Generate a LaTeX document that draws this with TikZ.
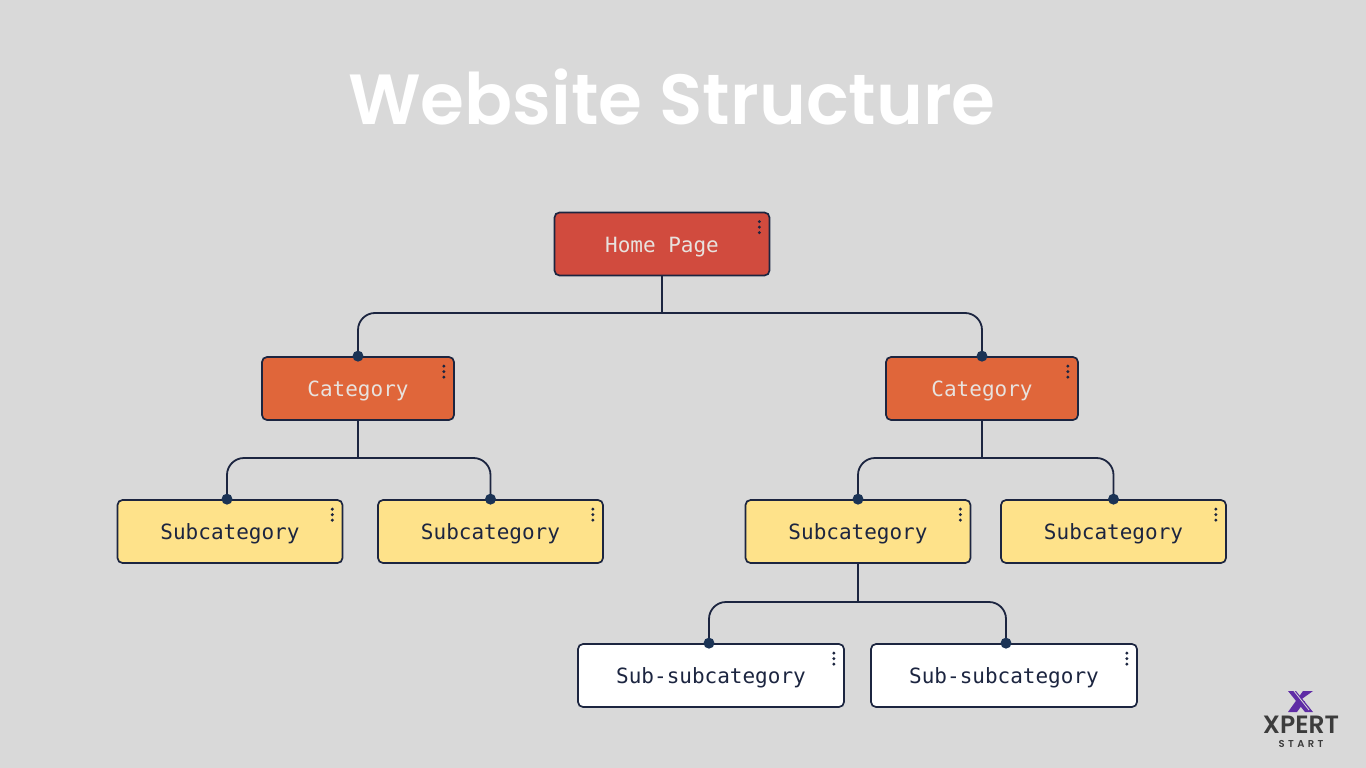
\documentclass[tikz,border=0pt]{standalone}
\usepackage{fontspec}
\setmainfont{Poppins}[UprightFont={* SemiBold},BoldFont={* SemiBold}]
\setmonofont{DejaVu Sans Mono}
\usepackage{tikz}
\definecolor{bgcol}{HTML}{D9D9D9}
\definecolor{linecol}{HTML}{1C2540}
\definecolor{dotcol}{HTML}{1B3355}
\definecolor{homecol}{HTML}{D14B3E}
\definecolor{catcol}{HTML}{E0663A}
\definecolor{subcol}{HTML}{FEE28A}
\definecolor{lighttext}{HTML}{E8E2DE}
\definecolor{logocol}{HTML}{5F2CA5}
\definecolor{logotext}{HTML}{3C3C3C}
\tikzset{
    box/.style={draw=linecol, line width=1.7pt, rounded corners=5pt, inner sep=0pt,
        minimum height=63pt, text=linecol, text height=21pt, text depth=5pt,
        font=\ttfamily\fontsize{21}{25}\selectfont},
    homebox/.style={box, fill=homecol, text=lighttext, minimum width=215pt},
    catbox/.style={box, fill=catcol, text=lighttext, minimum width=192pt},
    subbox/.style={box, fill=subcol, minimum width=225pt},
    leafbox/.style={box, fill=white, minimum width=266pt},
    link/.style={draw=linecol, line width=1.8pt},
    bus/.style={link, rounded corners=17pt},
    dotnode/.style={circle, fill=dotcol, inner sep=0pt, minimum size=11pt},
    menudot/.style={circle, fill=linecol, inner sep=0pt, minimum size=3.4pt},
    logolabel/.style={text=logotext, inner sep=0pt}
}
\begin{document}
\begin{tikzpicture}[x=1pt,y=-1pt]
    \fill[bgcol] (0,0) rectangle (1366,768);
    \useasboundingbox (0,0) rectangle (1366,768);

    \node[text=white, font=\fontsize{71}{80}\selectfont] (title) at (672,97) {Website Structure};

    % boxes
    \node[homebox] (home) at (662,244) {Home Page};
    \node[catbox] (catl) at (358,388.5) {Category};
    \node[catbox] (catr) at (982,388.5) {Category};
    \node[subbox] (suba) at (230,531.5) {Subcategory};
    \node[subbox] (subb) at (490.5,531.5) {Subcategory};
    \node[subbox] (subc) at (858,531.5) {Subcategory};
    \node[subbox] (subd) at (1113.5,531.5) {Subcategory};
    \node[leafbox] (leafa) at (711,675.5) {Sub-subcategory};
    \node[leafbox] (leafb) at (1004,675.5) {Sub-subcategory};

    % menu dots
    \foreach \n in {home,catl,catr,suba,subb,subc,subd,leafa,leafb} {
        \foreach \d in {10,15.5,21}
            \node[menudot] at ([xshift=-11pt,yshift=-\d pt]\n.north east) {};
    }

    % connectors
    \coordinate (busa) at (662,313);
    \coordinate (busb) at (358,458);
    \coordinate (busc) at (982,458);
    \coordinate (busd) at (858,602);
    \coordinate (pa) at ([xshift=-3pt]suba.north);
    \coordinate (pb) at (subb.north);
    \coordinate (pc) at (subc.north);
    \coordinate (pd) at (subd.north);
    \coordinate (pe) at ([xshift=-2pt]leafa.north);
    \coordinate (pf) at ([xshift=2pt]leafb.north);

    \draw[link] (home.south) -- (busa);
    \draw[bus] (busa) -| (catl.north);
    \draw[bus] (busa) -| (catr.north);
    \draw[link] (catl.south) -- (busb);
    \draw[bus] (busb) -| (pa);
    \draw[bus] (busb) -| (pb);
    \draw[link] (catr.south) -- (busc);
    \draw[bus] (busc) -| (pc);
    \draw[bus] (busc) -| (pd);
    \draw[link] (subc.south) -- (busd);
    \draw[bus] (busd) -| (pe);
    \draw[bus] (busd) -| (pf);

    \foreach \p in {catl.north,catr.north,pa,pb,pc,pd,pe,pf}
        \node[dotnode] at (\p) {};

    % logo
    \fill[logocol] (1288,691) -- (1296,691) -- (1313,712) -- (1305,712) -- cycle;
    \fill[logocol] (1313,691) -- (1303,691) -- (1288,712) -- (1297,712) -- (1305,701) -- (1299,701) -- cycle;
    \draw[bgcol, line width=0.8pt] (1294,691) -- (1309,710);
    \node[logolabel, font=\fontsize{25}{27}\selectfont] (xpert) at (1301,724.5) {XPERT};
    \node[logolabel, font=\fontsize{10}{11}\selectfont] (start) at (1301,743.5) {S\,\,T\,\,A\,\,R\,\,T};
\end{tikzpicture}
\end{document}
